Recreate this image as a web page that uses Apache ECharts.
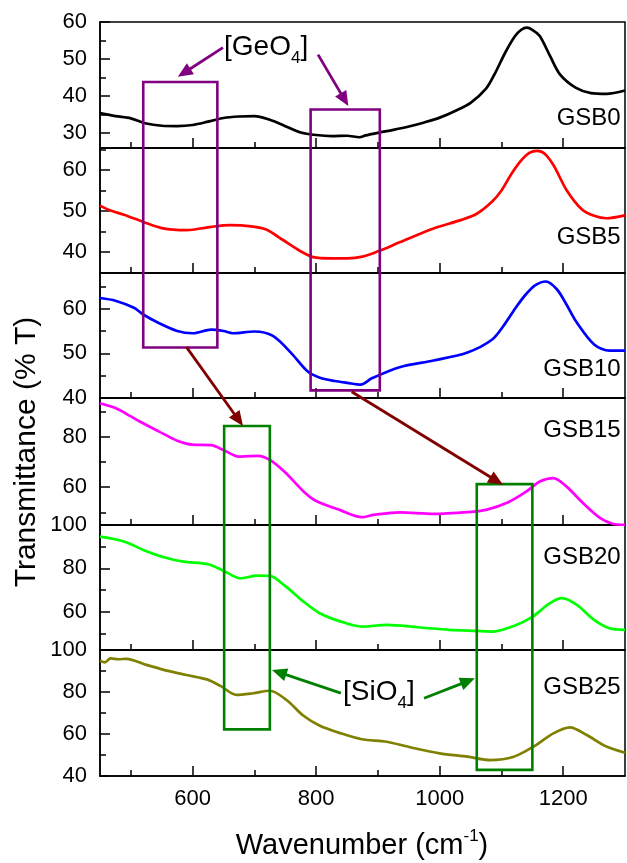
<!DOCTYPE html>
<html><head><meta charset="utf-8">
<script src="https://cdn.jsdelivr.net/npm/echarts@6/dist/echarts.min.js"></script>
<style>html,body{margin:0;padding:0;background:#fff}#c{width:627px;height:863px}</style>
</head><body><div id="c"></div>
<script>
const FONT = "'Liberation Sans', Arial, sans-serif";

// ---- data ----
const sampleNames = ['GSB0', 'GSB5', 'GSB10', 'GSB15', 'GSB20', 'GSB25'];
const lineColors = ['#000000', '#ff0000', '#0000ff', '#ff00ff', '#00ff00', '#808000'];

const wn0 = [450,475,500,525,550,575,600,625,650,675,700,725,750,775,800,825,850,870,880,900,925,950,975,1000,1025,1050,1075,1090,1106,1122,1132,1141,1150,1162,1179,1195,1220,1245,1270,1300];
const t0  = [35.4,34.6,34.0,32.6,32.0,31.9,32.2,33.1,34.1,34.5,34.6,33.6,31.9,30.2,29.5,29.2,29.3,28.9,29.4,30.1,30.9,31.8,32.9,34.2,36.0,38.2,42.0,46.3,51.7,56.2,57.9,58.5,57.9,56.2,50.7,45.8,42.3,40.8,40.6,41.5];

const wn1 = [450,465,490,520,550,590,630,660,695,720,745,775,795,825,850,875,900,935,990,1035,1060,1085,1100,1115,1130,1145,1158,1170,1185,1205,1230,1250,1270,1300];
const t1  = [51.3,50.2,49.0,47.3,45.8,45.3,46.1,46.5,46.2,45.4,43.0,40.1,38.7,38.4,38.4,38.8,40.1,42.3,45.7,47.8,49.3,52.3,55.0,58.8,62.0,64.2,64.7,64.0,61.0,55.2,50.4,48.8,48.2,48.9];

const wn2 = [450,475,505,520,545,575,600,630,650,665,700,730,760,785,805,830,850,872,890,935,990,1045,1085,1105,1125,1140,1155,1172,1190,1205,1222,1250,1275,1300];
const t2  = [62.4,61.8,60.2,58.7,56.8,55.0,54.5,55.3,55.0,54.5,54.9,53.9,50.0,46.1,44.6,43.8,43.4,43.0,44.4,46.9,48.4,50.2,53.1,56.5,60.6,63.3,65.3,66.1,64.3,61.0,56.9,52.0,50.6,50.6];

const wn3 = [450,475,500,515,545,575,600,630,650,675,705,725,750,780,800,840,874,893,935,990,1045,1075,1110,1140,1162,1184,1205,1232,1260,1280,1300];
const t3  = [93.2,91.3,88.0,85.9,82.1,78.4,76.8,76.6,74.7,72.1,72.4,70.8,65.8,58.2,54.5,50.8,48.1,49.0,50.0,49.4,50.1,51.0,53.9,58.2,62.2,63.6,60.3,53.7,47.7,45.5,45.1];

const wn4 = [450,490,520,555,585,625,650,677,705,725,750,778,805,840,874,915,965,1015,1060,1087,1120,1150,1178,1198,1222,1250,1275,1300];
const t4  = [94.6,92.3,88.5,85.0,83.1,81.9,78.9,75.4,76.6,76.5,71.8,65.0,59.4,55.4,53.1,53.9,52.8,51.6,51.1,50.8,53.4,57.6,63.8,66.2,63.1,56.2,52.3,51.6];

const wn5 = [450,458,467,480,493,525,558,590,623,645,671,698,725,752,779,806,840,874,914,952,1000,1045,1082,1120,1152,1184,1211,1238,1270,1300];
const t5  = [94.9,94.1,96.0,95.6,95.8,92.9,90.2,88.1,86.0,82.9,78.6,79.4,80.6,76.2,68.8,63.9,60.3,57.5,56.3,53.7,50.8,49.2,47.6,49.2,54.0,60.3,63.2,59.5,54.0,51.1];

const wnSets = [wn0, wn1, wn2, wn3, wn4, wn5];
const tSets = [t0, t1, t2, t3, t4, t5];

// axes
const xMin = 450, xMax = 1300;
const xTickMajor = [600, 800, 1000, 1200];
const xTickMinor = [500, 700, 900, 1100];
const yMin = [26, 34.8, 40, 45, 42.3, 40];
const yMax = [60, 65.4, 68, 95.3, 100, 100];
const yTickMajor = [[30,40,50,60],[40,50,60],[40,50,60],[60,80],[60,80,100],[40,60,80,100]];
const yTickMinor = [[35,45,55],[45,55,65],[45,55,65],[50,70,90],[50,70,90],[50,70,90]];

// annotation anchors in data coordinates [panel, wavenumber, value]
const boxes = [
  {c:'#800080', x1:520, x2:640, top:[0,43.8], bot:[2,51.3]},
  {c:'#800080', x1:791, x2:903, top:[0,36.4], bot:[2,41.7]},
  {c:'#008000', x1:651, x2:725, top:[3,84.2], bot:[5,62.2]},
  {c:'#008000', x1:1060, x2:1150, top:[3,61.2], bot:[5,42.9]}
];
const arrows = [
  {c:'#800080', from:[0,649,53.1], to:[0,576,45.2]},
  {c:'#800080', from:[0,803,51.2], to:[0,852,37.3]},
  {c:'#800000', from:[2,590,51.4], to:[3,681.5,84.2]},
  {c:'#800000', from:[2,857.5,41.4], to:[3,1102.5,60.9]},
  {c:'#008000', from:[5,840,79.5], to:[5,728.5,90.5]},
  {c:'#008000', from:[5,974.6,77], to:[5,1057,86.5]}
];
const noteLabels = [
  {text:'[GeO{s|4}]', at:[0,650.8,53.1]},
  {text:'[SiO{s|4}]', at:[5,843.5,79.8]}
];
const sampleLabelAt = [[0,1293,34.0],[1,1293,43.6],[2,1293,46.5],[3,1293,82.6],[4,1293,85.2],[5,1293,82.4]];

// ---- layout ----
const PL = 100, PW = 525;
const gridTops = [22, 148, 273, 398, 525, 650];
const gridHeights = [126, 125, 125, 127, 125, 126];
const xPix = w => PL + (w - xMin) / (xMax - xMin) * PW;
const yPix = (i, v) => gridTops[i] + (yMax[i] - v) / (yMax[i] - yMin[i]) * gridHeights[i];

const grids = [], xAxes = [], yAxes = [], series = [];
const plain = v => String(v);
const tickLine = {color: '#000', width: 1.5};
const hidden = {show: false};

// main panels (axes 0..5)
for (let i = 0; i < 6; i++) {
  grids.push({left: PL, width: PW, top: gridTops[i], height: gridHeights[i],
    show: true, borderColor: '#000', borderWidth: 1.5, backgroundColor: 'transparent'});
  xAxes.push({type: 'value', gridIndex: i, min: xMin, max: xMax,
    axisLine: {show: true, onZero: false, lineStyle: tickLine},
    axisTick: {show: false},
    axisLabel: {show: i === 5, customValues: xTickMajor, formatter: plain, color: '#000', fontSize: 22, fontFamily: FONT, margin: 12},
    splitLine: hidden});
  yAxes.push({type: 'value', gridIndex: i, min: yMin[i], max: yMax[i],
    axisLine: {show: true, onZero: false, lineStyle: tickLine},
    axisTick: {show: false},
    axisLabel: {show: true, customValues: yTickMajor[i], formatter: plain, color: '#000', fontSize: 22, fontFamily: FONT, margin: 13},
    splitLine: hidden});
}

// tick-only overlay grids: each spans exactly from its first to its last tick value
function addXTicks(i, vals, len) {
  const gi = grids.length;
  const a = vals[0], b = vals[vals.length - 1];
  grids.push({left: xPix(a), width: xPix(b) - xPix(a), top: gridTops[i], height: gridHeights[i], show: false});
  xAxes.push({type: 'value', gridIndex: gi, min: a, max: b, interval: vals[1] - vals[0],
    axisLine: hidden, axisLabel: hidden, splitLine: hidden,
    axisTick: {show: true, inside: true, length: len, lineStyle: tickLine}});
  yAxes.push({type: 'value', gridIndex: gi, show: false, min: 0, max: 1});
}
function addYTicks(i, vals, len) {
  const gi = grids.length;
  const a = vals[0], b = vals[vals.length - 1];
  grids.push({left: PL, width: PW, top: yPix(i, b), height: yPix(i, a) - yPix(i, b), show: false});
  xAxes.push({type: 'value', gridIndex: gi, show: false, min: 0, max: 1});
  yAxes.push({type: 'value', gridIndex: gi, min: a, max: b, interval: vals[1] - vals[0],
    axisLine: hidden, axisLabel: hidden, splitLine: hidden,
    axisTick: {show: true, inside: true, length: len, lineStyle: tickLine}});
}
for (let i = 0; i < 6; i++) {
  addXTicks(i, xTickMajor, 10);
  addXTicks(i, xTickMinor, 6);
  addYTicks(i, yTickMajor[i], 10);
  addYTicks(i, yTickMinor[i], 6);
}

for (let i = 0; i < 6; i++) {
  series.push({type: 'line', name: sampleNames[i], xAxisIndex: i, yAxisIndex: i,
    data: wnSets[i].map((w, k) => [w, tSets[i][k]]),
    showSymbol: false, smooth: 0.3, clip: true,
    lineStyle: {color: lineColors[i], width: 2.7}, itemStyle: {color: lineColors[i]}, z: 3});
}

const chart = echarts.init(document.getElementById('c'), null, {renderer: 'canvas'});
chart.setOption({animation: false, backgroundColor: '#fff', grid: grids, xAxis: xAxes, yAxis: yAxes, series: series});

// ---- annotations ----
const px = (g, x, y) => chart.convertToPixel({xAxisIndex: g, yAxisIndex: g}, [x, y]);
const gfx = [];
boxes.forEach(b => {
  const p1 = px(b.top[0], b.x1, b.top[1]);
  const p2 = px(b.bot[0], b.x2, b.bot[1]);
  gfx.push({type: 'rect', z: 10, shape: {x: p1[0], y: p1[1], width: p2[0] - p1[0], height: p2[1] - p1[1]},
    style: {fill: 'none', stroke: b.c, lineWidth: 2.6}});
});
arrows.forEach(a => {
  const s = px(a.from[0], a.from[1], a.from[2]);
  const t = px(a.to[0], a.to[1], a.to[2]);
  const dx = t[0] - s[0], dy = t[1] - s[1], L = Math.hypot(dx, dy);
  const ux = dx / L, uy = dy / L, nx = -uy, ny = ux;
  const HL = 15, HW = 6.5;
  const bx = t[0] - ux * HL, by = t[1] - uy * HL;
  gfx.push({type: 'line', z: 10, shape: {x1: s[0], y1: s[1], x2: bx + ux * 2, y2: by + uy * 2},
    style: {stroke: a.c, lineWidth: 2.8}});
  gfx.push({type: 'polygon', z: 10, shape: {points: [[t[0], t[1]], [bx + nx * HW, by + ny * HW], [bx - nx * HW, by - ny * HW]]},
    style: {fill: a.c}});
});
noteLabels.forEach(n => {
  const p = px(n.at[0], n.at[1], n.at[2]);
  gfx.push({type: 'text', z: 11, x: p[0], y: p[1], style: {text: n.text, fill: '#000', fontSize: 28, fontFamily: FONT,
    lineHeight: 38, textAlign: 'left', textVerticalAlign: 'middle',
    rich: {s: {fontSize: 17, fontFamily: FONT, lineHeight: 17, verticalAlign: 'bottom', fill: '#000'}}}});
});
sampleLabelAt.forEach((a, i) => {
  const p = px(a[0], a[1], a[2]);
  gfx.push({type: 'text', z: 11, x: p[0], y: p[1], style: {text: sampleNames[i], fill: '#000', fontSize: 24, fontFamily: FONT,
    textAlign: 'right', textVerticalAlign: 'middle'}});
});
gfx.push({type: 'text', z: 11, x: 27, y: 452, rotation: Math.PI / 2,
  style: {text: 'Transmittance (% T)', fill: '#000', fontSize: 30, fontFamily: FONT, textAlign: 'center', textVerticalAlign: 'middle'}});
gfx.push({type: 'text', z: 11, x: 362, y: 846,
  style: {text: 'Wavenumber (cm{p|-1})', fill: '#000', fontSize: 29, fontFamily: FONT, lineHeight: 36,
    textAlign: 'center', textVerticalAlign: 'middle',
    rich: {p: {fontSize: 17, fontFamily: FONT, lineHeight: 17, verticalAlign: 'top', fill: '#000'}}}});
chart.setOption({graphic: gfx});
</script></body></html>
